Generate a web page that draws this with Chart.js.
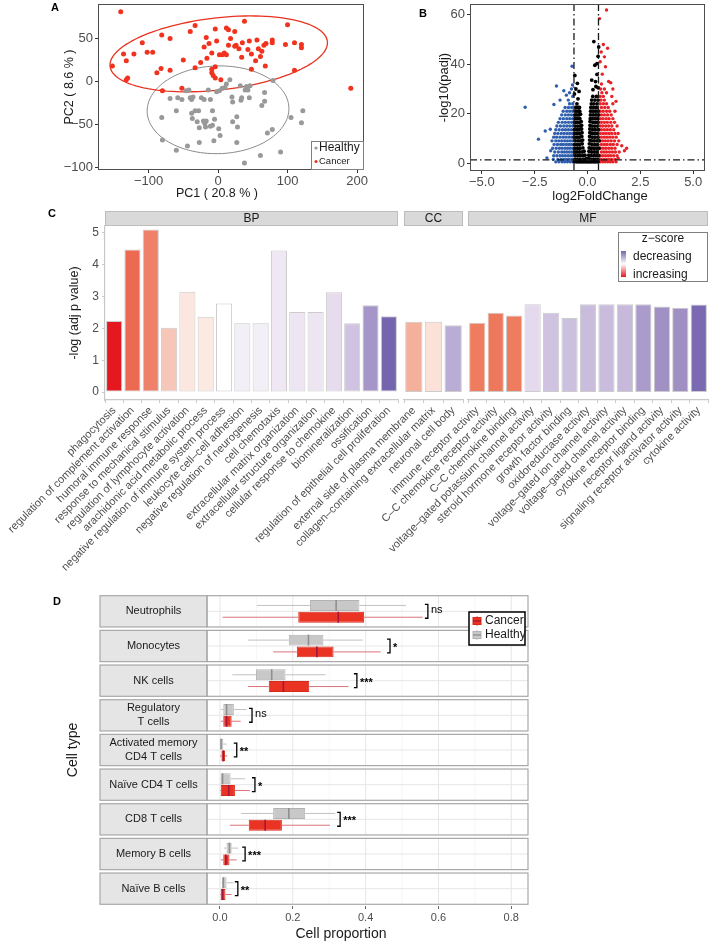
<!DOCTYPE html>
<html>
<head>
<meta charset="utf-8">
<script src="https://cdn.jsdelivr.net/npm/chart.js@4/dist/chart.umd.min.js"></script>
<style>
  body { margin: 0; background: #fff; width: 709px; height: 941px; position: relative; overflow: hidden;
         font-family: 'Liberation Sans', Arial, sans-serif; }
  canvas { position: absolute; }
  .tag { position: absolute; font-weight: bold; font-size: 11px; color: #000; transform: translate(-50%, -50%); }
  .xt { position: absolute; transform: translate(-50%, -50%); white-space: nowrap; color: #1a1a1a; }
</style>
</head>
<body>
<canvas id="pca" width="372" height="200" style="left:0;top:0"></canvas>
<canvas id="volcano" width="347" height="200" style="left:362px;top:0"></canvas>
<canvas id="goBP" width="400" height="400" style="left:0;top:205px"></canvas>
<canvas id="goCC" width="195" height="400" style="left:270px;top:205px"></canvas>
<canvas id="goMF" width="359" height="400" style="left:350px;top:205px"></canvas>
<canvas id="cells" width="709" height="356" style="left:0;top:585px"></canvas>

<div class="tag" style="left:55px;top:7px">A</div>
<div class="tag" style="left:423px;top:13px">B</div>
<div class="tag" style="left:52px;top:213px">C</div>
<div class="tag" style="left:57px;top:601px">D</div>
<div class="xt" style="left:217px;top:193px;font-size:12.5px">PC1 ( 20.8 % )</div>
<div class="xt" style="left:600px;top:195px;font-size:13px">log2FoldChange</div>
<div class="xt" style="left:341px;top:933px;font-size:14px">Cell proportion</div>

<script>
// ---------- data ----------
// A: PCA scores
const pcaHealthy = [[-81,-42],[-80,-68],[-69,-20],[-60,-34],[-60,-80],[-58,-19],[-52,-21],[-46,-11],[-42,-10],
  [-44,-75],[-40,-19],[-38,-21],[-36,-18],[-38,-37],[-37,-43],[-33,-34],[-30,-47],[-28,-34],[-27,-71],[-27,-54],
  [-24,-19],[-21,-46],[-19,-49],[-20,-21],[-18,-53],[-17,-46],[-14,-10],[-11,-21],[-11,-52],[-8,-34],[-8,-51],
  [-6,-69],[-5,-44],[-2,-12],[1,-55],[2,-11],[3,-63],[6,-8],[10,-7],[12,-3],[17,2],[20,-18],[21,-24],[21,-47],
  [27,-41],[27,-71],[28,-53],[33,-22],[32,-5],[34,-19],[38,-95],[39,-10],[43,-10],[41,-6],[45,-19],[46,-5],
  [61,-86],[63,-28],[67,-23],[67,-13],[71,-60],[78,-56],[79,1],[90,-82],[105,-42],[120,-48],[122,-34]];
const pcaCancer = [[-140,81],[-152,18],[-136,32],[-132,24],[-121,32],[-130,4],[-132,2],[-109,45],[-102,34],
  [-94,34],[-88,10],[-82,15],[-81,54],[-80,-11],[-69,13],[-69,50],[-50,25],[-52,-8],[-40,58],[-33,65],[-33,16],
  [-25,22],[-20,40],[-17,51],[-16,27],[-13,44],[-9,33],[-4,61],[-4,17],[-4,4],[-2,47],[2,31],[4,2],[-9,10],
  [-9,14],[-7,7],[6,31],[9,33],[12,31],[12,62],[15,60],[15,42],[18,50],[24,58],[24,41],[26,42],[30,38],[34,28],
  [35,45],[38,70],[43,37],[45,47],[48,32],[48,14],[54,24],[56,48],[58,38],[61,29],[63,35],[68,18],[66,42],
  [69,44],[78,48],[78,45],[97,43],[100,66],[110,45],[110,13],[120,43],[120,39],[191,-8]];
const ellipseHealthyCenter = [0, -33], ellipseHealthyRadii = [102, 51], ellipseHealthyAngle = 1;
const ellipseCancerCenter = [1, 32], ellipseCancerRadii = [157, 42], ellipseCancerAngle = 5.1;
const pcaXTicks = [-100, 0, 100, 200];
const pcaYTicks = [-100, -50, 0, 50];

// B: volcano (log2FoldChange, -log10(padj))
const volcanoNS = [[-0.62,0.5],[-0.5,0.5],[-0.4,0.5],[-0.3,0.5],[-0.2,0.5],[-0.1,0.5],[0,0.5],[0.1,0.5],[0.2,0.5],[0.3,0.5],[0.4,0.5],[0.5,0.5],
  [-0.6,1.5],[-0.48,1.5],[-0.35,1.5],[-0.22,1.5],[-0.12,1.5],[-0.05,1.8],[0.05,1.8],[0.15,1.5],[0.27,1.5],[0.38,1.5],[0.5,1.5],
  [-0.58,3],[-0.45,3],[-0.33,3],[-0.2,3],[-0.12,3.2],[0.06,3.2],[0.17,3],[0.3,3],[0.42,3],[0.53,3],
  [-0.61,4.5],[-0.5,4.5],[-0.38,4.5],[-0.25,4.5],[-0.16,4.8],[0.07,4.8],[0.2,4.5],[0.33,4.5],[0.45,4.5],
  [-0.6,6],[-0.47,6],[-0.35,6],[-0.22,6.2],[0.08,6.2],[0.18,6],[0.3,6],[0.43,6],[0.54,6],
  [-0.62,7.5],[-0.5,7.5],[-0.38,7.5],[-0.25,7.8],[0.09,7.8],[0.22,7.5],[0.35,7.5],[0.48,7.5],
  [-0.58,9],[-0.45,9],[-0.33,9],[-0.23,9.3],[0.1,9.3],[0.2,9],[0.32,9],[0.45,9],[0.55,9],
  [-0.62,10.5],[-0.5,10.5],[-0.38,10.5],[-0.27,10.8],[0.1,10.8],[0.23,10.5],[0.36,10.5],[0.5,10.5],
  [-0.6,12],[-0.48,12],[-0.36,12],[-0.26,12.3],[0.11,12.3],[0.2,12],[0.33,12],[0.46,12],
  [-0.62,13.5],[-0.5,13.5],[-0.4,13.5],[-0.28,13.8],[0.11,13.8],[0.24,13.5],[0.37,13.5],[0.52,13.5],
  [-0.58,15],[-0.46,15],[-0.35,15],[-0.28,15.3],[0.12,15.3],[0.22,15],[0.34,15],[0.47,15],
  [-0.6,16.5],[-0.5,16.5],[-0.38,16.5],[-0.3,16.8],[0.12,16.8],[0.25,16.5],[0.38,16.5],[0.5,16.5],
  [-0.58,18],[-0.47,18],[-0.36,18],[0.13,18],[0.24,18],[0.36,18],[0.48,18],
  [-0.6,19.5],[-0.5,19.5],[-0.4,19.5],[-0.33,19.8],[0.14,19.5],[0.27,19.5],[0.4,19.5],[0.52,19.5],
  [-0.56,21],[-0.45,21],[-0.37,21],[0.15,21],[0.26,21],[0.38,21],[0.5,21],
  [-0.55,22.5],[-0.45,22.5],[-0.38,22.5],[0.16,22.5],[0.28,22.5],[0.42,22.5],
  [-0.5,24],[0.18,24],[0.3,24],[0.45,24],[0.2,25.5],[0.35,25.5],[0.5,25.5],[0.25,27],[0.42,27],
  [-0.62,28],[-0.55,30],[-0.48,32.3],[-0.6,35.5],[-0.4,29],[-0.45,26],[0.3,49.2],[0.35,39.6],[0.45,40.3],
  [0.5,43.2],[0.45,35.9],[0.38,33],[0.2,33.6],[0.26,29.7],[0.5,30.5],[0.53,47],[0.4,31]];
const volcanoDown = [[-0.7,0.5],[-0.82,0.5],[-0.95,0.5],[-1.08,0.5],[-1.2,0.5],[-1.35,0.5],[-1.5,0.5],
  [-0.75,1.5],[-0.88,1.5],[-1.0,1.5],[-1.12,1.5],[-1.25,1.5],[-1.4,1.5],[-1.62,1.5],[-1.92,2.1],
  [-0.7,3],[-0.8,3],[-0.92,3],[-1.05,3],[-1.18,3],[-1.3,3],[-1.45,3],[-1.6,3],
  [-0.74,4.5],[-0.86,4.5],[-0.98,4.5],[-1.1,4.5],[-1.22,4.5],[-1.38,4.5],[-1.55,4.5],[-1.74,5],
  [-0.7,6],[-0.82,6],[-0.94,6],[-1.06,6],[-1.2,6],[-1.33,6],[-1.48,6],[-1.65,6],
  [-0.76,7.5],[-0.88,7.5],[-1.0,7.5],[-1.14,7.5],[-1.27,7.5],[-1.42,7.5],[-1.58,7.5],
  [-0.7,9],[-0.82,9],[-0.95,9],[-1.08,9],[-1.22,9],[-1.36,9],[-1.5,9],[-1.68,9],
  [-0.75,10.5],[-0.88,10.5],[-1.02,10.5],[-1.15,10.5],[-1.3,10.5],[-1.46,10.5],[-1.6,10.5],
  [-0.7,12],[-0.83,12],[-0.96,12],[-1.1,12],[-1.24,12],[-1.4,12],[-1.55,12],
  [-0.76,13.5],[-0.9,13.5],[-1.04,13.5],[-1.18,13.5],[-1.34,13.5],[-1.5,13.5],[-1.76,13.7],[-2.0,13],
  [-0.7,15],[-0.84,15],[-0.98,15],[-1.12,15],[-1.28,15],[-1.45,15],
  [-0.75,16.5],[-0.9,16.5],[-1.05,16.5],[-1.2,16.5],[-1.38,16.5],
  [-0.7,18],[-0.84,18],[-0.98,18],[-1.14,18],[-1.3,18],
  [-0.76,19.5],[-0.9,19.5],[-1.05,19.5],[-1.22,19.5],
  [-0.7,21],[-0.84,21],[-0.98,21],[-1.15,21],
  [-0.75,22.5],[-0.9,22.5],[-1.06,22.5],[-1.59,23.7],[-0.7,24],[-0.85,24],
  [-2.95,22.6],[-2.32,9.7],[-1.47,31.2],[-1.12,29.3],[-0.76,30],[-0.73,39.2],[-0.71,31.6],[-0.91,25.5],
  [-1.3,25.5],[-1.0,27.5],[-0.85,28.5],[-0.7,27]];
const volcanoUp = [[0.6,0.5],[0.72,0.5],[0.84,0.5],[0.96,0.5],[1.08,0.5],[1.2,0.5],[1.35,0.5],
  [0.65,1.5],[0.78,1.5],[0.9,1.5],[1.02,1.5],[1.15,1.5],[1.3,1.5],[1.45,2],
  [0.6,3],[0.72,3],[0.85,3],[0.98,3],[1.1,3],[1.24,3],[1.4,3],
  [0.66,4.5],[0.78,4.5],[0.9,4.5],[1.04,4.5],[1.18,4.5],[1.32,4.5],[1.5,4.5],[1.75,5],
  [0.6,6],[0.73,6],[0.86,6],[1.0,6],[1.14,6],[1.3,6],[1.62,7],[1.85,6],
  [0.66,7.5],[0.8,7.5],[0.93,7.5],[1.08,7.5],[1.22,7.5],[1.4,7.5],
  [0.6,9],[0.72,9],[0.85,9],[0.98,9],[1.12,9],[1.28,9],[1.48,9],
  [0.66,10.5],[0.8,10.5],[0.93,10.5],[1.06,10.5],[1.2,10.5],[1.36,10.5],
  [0.6,12],[0.73,12],[0.86,12],[1.0,12],[1.14,12],[1.3,12],[1.45,12],
  [0.66,13.5],[0.8,13.5],[0.94,13.5],[1.08,13.5],[1.24,13.5],
  [0.6,15],[0.72,15],[0.86,15],[1.0,15],[1.15,15],[1.4,15],
  [0.66,16.5],[0.8,16.5],[0.94,16.5],[1.1,16.5],[1.28,16.5],
  [0.6,18],[0.73,18],[0.88,18],[1.02,18],[1.2,18],
  [0.66,19.5],[0.8,19.5],[0.95,19.5],[1.12,19.5],
  [0.6,21],[0.74,21],[0.9,21],[1.05,21],[1.3,21],
  [0.66,22.5],[0.82,22.5],[0.98,22.5],[0.6,24],[0.75,24],[0.9,24],[1.2,24],
  [0.64,25.5],[0.8,25.5],[1.35,25],[0.6,27],[0.75,27],[1.15,27],[0.68,28.5],[0.9,28.5],
  [0.62,30],[0.8,30],[1.2,30],[0.66,32],[1.0,33],[1.1,32.5],
  [0.9,62],[0.57,58.5],[0.75,48],[0.95,46.5],[0.8,43],[0.85,39],[0.7,36],[0.6,41],[0.65,45]];
const fcThresholds = [-0.64, 0.52];
const padjThreshold = 1.3;
const volcanoXTicks = [-5, -2.5, 0, 2.5, 5];
const volcanoYTicks = [0, 20, 40, 60];

// C: GO enrichment
const bpTerms = ['phagocytosis','regulation of complement activation','humoral immune response',
  'response to mechanical stimulus','regulation of lymphocyte activation','arachidonic acid metabolic process',
  'negative regulation of immune system process','leukocyte cell\u2013cell adhesion','negative regulation of neurogenesis',
  'cell chemotaxis','extracellular matrix organization','extracellular structure organization',
  'cellular response to chemokine','biomineralization','ossification','regulation of epithelial cell proliferation'];
const bpValues = [2.23, 4.48, 5.11, 2.02, 3.15, 2.37, 2.78, 2.16, 2.16, 4.45, 2.52, 2.52, 3.14, 2.16, 2.73, 2.38];
const bpColors = ['#e5171f','#ec6a51','#ef8069','#f6c7b9','#fbe7df','#fbe9e2','#ffffff','#f3eff6','#f3eff6',
  '#efe7f3','#ede6f2','#ede6f2','#e6dcee','#cfc3e1','#a595c8','#7565ae'];
const ccTerms = ['external side of plasma membrane','collagen\u2013containing extracellular matrix','neuronal cell body'];
const ccValues = [2.21, 2.21, 2.1];
const ccColors = ['#f5b09c','#fbe1d8','#b9acd5'];
const mfTerms = ['immune receptor activity','C\u2013C chemokine receptor activity','C\u2013C chemokine binding',
  'voltage\u2013gated potassium channel activity','steroid hormone receptor activity','growth factor binding',
  'oxidoreductase activity','voltage\u2013gated ion channel activity','voltage\u2013gated channel activity',
  'cytokine receptor binding','receptor ligand activity','signaling receptor activator activity','cytokine activity'];
const mfValues = [2.18, 2.49, 2.41, 2.76, 2.49, 2.33, 2.76, 2.76, 2.76, 2.76, 2.69, 2.65, 2.75];
const mfColors = ['#ef7c5e','#ee785b','#ef7c5e','#e4d9ed','#cfc3e1','#ccc0df','#c9bcdd','#c9bcdd','#c6b9db',
  '#ab9bcb','#a190c4','#a08fc3','#7b6ab2'];
const goYTicks = [0, 1, 2, 3, 4, 5];

// D: immune cell proportions, [min, q1, median, q3, max]
const cellTypes = ['Neutrophils','Monocytes','NK cells','Regulatory\nT cells','Activated memory\nCD4 T cells',
  'Na\u00efve CD4 T cells','CD8 T cells','Memory B cells','Na\u00efve B cells'];
const healthyStats = [[0.101,0.247,0.319,0.383,0.511],[0.077,0.189,0.243,0.284,0.392],[0.034,0.099,0.142,0.180,0.290],
  [0.002,0.009,0.018,0.038,0.073],[0.0,0.001,0.003,0.009,0.018],[0.0,0.002,0.007,0.029,0.069],
  [0.058,0.146,0.189,0.234,0.316],[0.011,0.018,0.026,0.032,0.050],[0.004,0.006,0.009,0.018,0.037]];
const cancerStats = [[0.007,0.215,0.325,0.396,0.557],[0.146,0.211,0.266,0.312,0.441],[0.077,0.134,0.174,0.245,0.353],
  [0.002,0.009,0.018,0.032,0.057],[0.0,0.004,0.009,0.014,0.020],[0.0,0.002,0.024,0.041,0.082],
  [0.027,0.079,0.124,0.170,0.302],[0.002,0.009,0.016,0.026,0.046],[0.0,0.002,0.007,0.015,0.032]];
const sigLabels = ['ns','*','***','ns','**','*','***','***','**'];
const sigAt = [0.571, 0.467, 0.376, 0.088, 0.046, 0.096, 0.33, 0.069, 0.049];
const propTicks = [0, 0.2, 0.4, 0.6, 0.8];
const propMinor = [0.1, 0.3, 0.5, 0.7];

// ---------- helpers ----------
Chart.defaults.font.family = "'Liberation Sans', Arial, sans-serif";
Chart.defaults.color = '#4d4d4d';
Chart.defaults.animation = false;
Chart.defaults.responsive = false;
Chart.defaults.devicePixelRatio = 1;
Chart.defaults.plugins.legend.display = false;
Chart.defaults.plugins.tooltip.enabled = false;

const FONT = "'Liberation Sans', Arial, sans-serif";
function fixed(prop, v) {
  return s => { s[prop] = v; s.paddingTop = s.paddingBottom = s.paddingLeft = s.paddingRight = 0; };
}
function useTicks(list) { return s => { s.ticks = list.map(v => ({value: v})); }; }
const minus = v => (v < 0 ? '\u2212' + Math.abs(v) : String(v));
const pts = list => list.map(p => ({x: p[0], y: p[1]}));

function frame(color) {
  return {
    id: 'frame',
    afterDraw(chart) {
      const a = chart.chartArea, c = chart.ctx;
      c.save();
      c.strokeStyle = color; c.lineWidth = 1;
      c.strokeRect(Math.round(a.left) + 0.5, Math.round(a.top) + 0.5,
        Math.round(a.right - a.left) - 1, Math.round(a.bottom - a.top) - 1);
      c.restore();
    }
  };
}

// ---------- A ----------
const ellipsePlugin = {
  id: 'ellipses',
  beforeDatasetsDraw(chart) {
    const {x, y} = chart.scales, c = chart.ctx;
    const list = [
      [ellipseHealthyCenter, ellipseHealthyRadii, ellipseHealthyAngle, '#8a8a8a', 1],
      [ellipseCancerCenter, ellipseCancerRadii, ellipseCancerAngle, '#e8321f', 1.3]
    ];
    c.save();
    list.forEach(([cen, r, ang, col, w]) => {
      const th = ang * Math.PI / 180;
      c.beginPath();
      for (let k = 0; k <= 120; k++) {
        const t = k / 120 * 2 * Math.PI;
        const dx = r[0] * Math.cos(t), dy = r[1] * Math.sin(t);
        const px = x.getPixelForValue(cen[0] + dx * Math.cos(th) - dy * Math.sin(th));
        const py = y.getPixelForValue(cen[1] + dx * Math.sin(th) + dy * Math.cos(th));
        if (k === 0) c.moveTo(px, py); else c.lineTo(px, py);
      }
      c.strokeStyle = col; c.lineWidth = w; c.stroke();
    });
    c.restore();
  }
};
const pcaLegend = {
  id: 'pcaLegend',
  afterDraw(chart) {
    const a = chart.chartArea, c = chart.ctx;
    const l = a.right - 53, t = a.bottom - 29;
    c.save();
    c.fillStyle = '#fff'; c.fillRect(l, t, 53, 29);
    c.strokeStyle = '#808080'; c.lineWidth = 1; c.strokeRect(l + 0.5, t + 0.5, 52, 28);
    c.fillStyle = '#999999'; c.beginPath(); c.arc(l + 5, t + 7, 1.6, 0, 2 * Math.PI); c.fill();
    c.fillStyle = '#f0321e'; c.beginPath(); c.arc(l + 5, t + 20.5, 1.6, 0, 2 * Math.PI); c.fill();
    c.fillStyle = '#1a1a1a'; c.textBaseline = 'middle'; c.textAlign = 'left';
    c.font = '12px ' + FONT; c.fillText('Healthy', l + 8, t + 7);
    c.font = '9.5px ' + FONT; c.fillText('Cancer', l + 8, t + 20.5);
    c.restore();
  }
};

new Chart(document.getElementById('pca'), {
  type: 'scatter',
  data: {datasets: [
    {data: pts(pcaHealthy), backgroundColor: '#999999', borderWidth: 0, pointRadius: 2.5},
    {data: pts(pcaCancer), backgroundColor: '#f0321e', borderWidth: 0, pointRadius: 2.5}
  ]},
  options: {
    layout: {padding: {left: 0, right: 8, top: 2, bottom: 0}},
    scales: {
      x: {min: -172.7, max: 210, afterBuildTicks: useTicks(pcaXTicks), afterFit: fixed('height', 30),
          ticks: {font: {size: 13}, color: '#4d4d4d', padding: 1, callback: minus},
          grid: {drawOnChartArea: false, tickLength: 3, color: '#333'}, border: {display: false}},
      y: {min: -103, max: 90, afterBuildTicks: useTicks(pcaYTicks), afterFit: fixed('width', 98),
          ticks: {font: {size: 13}, color: '#4d4d4d', padding: 2, callback: minus},
          grid: {drawOnChartArea: false, tickLength: 3, color: '#333'}, border: {display: false},
          title: {display: true, text: 'PC2 ( 8.6 % )', color: '#1a1a1a', font: {size: 12.5}, padding: {top: 62, bottom: 0}}}
    }
  },
  plugins: [ellipsePlugin, frame('#4d4d4d'), pcaLegend]
});

// ---------- B ----------
const thresholdPlugin = {
  id: 'thresholds',
  afterDatasetsDraw(chart) {
    const {x, y} = chart.scales, a = chart.chartArea, c = chart.ctx;
    c.save();
    c.strokeStyle = '#1a1a1a'; c.lineWidth = 1.3; c.setLineDash([7, 3, 1.5, 3]);
    fcThresholds.forEach(v => {
      const px = x.getPixelForValue(v);
      c.beginPath(); c.moveTo(px, a.top); c.lineTo(px, a.bottom); c.stroke();
    });
    const py = y.getPixelForValue(padjThreshold);
    c.beginPath(); c.moveTo(a.left, py); c.lineTo(a.right, py); c.stroke();
    c.restore();
  }
};

new Chart(document.getElementById('volcano'), {
  type: 'scatter',
  data: {datasets: [
    {data: pts(volcanoNS), backgroundColor: '#000', borderWidth: 0, pointRadius: 1.9},
    {data: pts(volcanoDown), backgroundColor: '#2f5fae', borderWidth: 0, pointRadius: 1.7},
    {data: pts(volcanoUp), backgroundColor: '#ea2027', borderWidth: 0, pointRadius: 1.7}
  ]},
  options: {
    layout: {padding: {left: 0, right: 2, top: 1, bottom: 0}},
    scales: {
      x: {min: -5.56, max: 5.56, afterBuildTicks: useTicks(volcanoXTicks), afterFit: fixed('height', 29),
          ticks: {font: {size: 13}, color: '#4d4d4d', padding: 1,
                  callback: v => (v < 0 ? '\u2212' + Math.abs(v).toFixed(1) : v.toFixed(1))},
          grid: {drawOnChartArea: false, tickLength: 3, color: '#333'}, border: {display: false}},
      y: {min: -3.2, max: 64.4, afterBuildTicks: useTicks(volcanoYTicks), afterFit: fixed('width', 108),
          ticks: {font: {size: 13}, color: '#4d4d4d', padding: 2},
          grid: {drawOnChartArea: false, tickLength: 3, color: '#333'}, border: {display: false},
          title: {display: true, text: '-log10(padj)', color: '#1a1a1a', font: {size: 13}, padding: {top: 75, bottom: 0}}}
    }
  },
  plugins: [thresholdPlugin, frame('#4d4d4d')]
});

// ---------- C ----------
function strip(text) {
  return {
    id: 'strip',
    afterDraw(chart) {
      const a = chart.chartArea, c = chart.ctx;
      c.save();
      c.fillStyle = '#d9d9d9'; c.fillRect(a.left, a.top - 15, a.right - a.left, 15);
      c.strokeStyle = '#bdbdbd'; c.lineWidth = 1;
      c.strokeRect(a.left + 0.5, a.top - 14.5, a.right - a.left - 1, 14);
      c.fillStyle = '#1a1a1a'; c.font = '12px ' + FONT; c.textAlign = 'center'; c.textBaseline = 'middle';
      c.fillText(text, (a.left + a.right) / 2, a.top - 7);
      c.restore();
    }
  };
}
const zLegend = {
  id: 'zLegend',
  afterDraw(chart) {
    const a = chart.chartArea, c = chart.ctx;
    const l = a.right - 90, t = a.top + 6;
    c.save();
    c.fillStyle = '#fff'; c.fillRect(l, t, 90, 50);
    c.strokeStyle = '#7f7f7f'; c.lineWidth = 1; c.strokeRect(l + 0.5, t + 0.5, 89, 49);
    const g = c.createLinearGradient(0, t + 19, 0, t + 45);
    g.addColorStop(0, '#7565ae'); g.addColorStop(0.5, '#ffffff'); g.addColorStop(1, '#e5171f');
    c.fillStyle = g; c.fillRect(l + 3, t + 19, 5, 26);
    c.fillStyle = '#1a1a1a'; c.font = '12px ' + FONT; c.textBaseline = 'middle';
    c.textAlign = 'center'; c.fillText('z\u2212score', l + 45, t + 7);
    c.textAlign = 'left';
    c.fillText('decreasing', l + 15, t + 24.5);
    c.fillText('increasing', l + 15, t + 43);
    c.restore();
  }
};

function goChart(id, terms, values, colors, padLeft, padRight, showY, extra) {
  return new Chart(document.getElementById(id), {
    type: 'bar',
    data: {labels: terms, datasets: [{data: values, backgroundColor: colors, borderColor: '#cccccc',
           borderWidth: 1, borderSkipped: false, barPercentage: 0.88, categoryPercentage: 1}]},
    options: {
      layout: {padding: {left: padLeft, right: padRight, top: 21, bottom: 0}},
      scales: {
        x: {afterFit: fixed('height', 205),
            ticks: {font: {size: 11}, color: '#4d4d4d', minRotation: 45, maxRotation: 45, autoSkip: false, padding: 1},
            grid: {drawOnChartArea: false, tickLength: 3, color: '#c8c8c8'},
            border: {display: true, color: '#c8c8c8', width: 1.2}},
        y: showY ? {min: -0.25, max: 5.22, afterBuildTicks: useTicks(goYTicks), afterFit: fixed('width', 105),
            ticks: {font: {size: 12}, color: '#4d4d4d', padding: 3},
            grid: {drawOnChartArea: false, tickLength: 3, color: '#c8c8c8'},
            border: {display: true, color: '#c8c8c8', width: 1.2},
            title: {display: true, text: '-log (adj p value)', color: '#1a1a1a', font: {size: 12.5}, padding: {top: 67, bottom: 0}}}
          : {display: false, min: -0.25, max: 5.22}
      }
    },
    plugins: extra
  });
}
goChart('goBP', bpTerms, bpValues, bpColors, 0, 2, true, [strip('BP')]);
goChart('goCC', ccTerms, ccValues, ccColors, 134, 2, false, [strip('CC')]);
goChart('goMF', mfTerms, mfValues, mfColors, 118, 1, false, [strip('MF'), zLegend]);

// ---------- D ----------
const boxColors = {fill: ['#c8c8c8', '#ea3323'], edge: ['#b3b3b3', '#d62b1c'],
                   median: ['#8f8f8f', '#a3173a'], whisker: ['#c2c2c2', '#d9737c']};
const STRIP_W = 107;
function rowBounds(chart, i) {
  const y = chart.scales.y;
  const pitch = y.getPixelForValue(1) - y.getPixelForValue(0);
  const cy = y.getPixelForValue(i);
  return [cy - pitch / 2 + 1.7, cy + pitch / 2 - 1.7, cy];
}
const boxPlugin = {
  id: 'boxes',
  beforeDatasetsDraw(chart) {
    const x = chart.scales.x, a = chart.chartArea, c = chart.ctx;
    c.save();
    cellTypes.forEach((name, i) => {
      const [top, bot, cy] = rowBounds(chart, i);
      c.fillStyle = '#fff'; c.fillRect(a.left, top, a.right - a.left, bot - top);
      c.strokeStyle = '#f2f2f2'; c.lineWidth = 0.7;
      propMinor.forEach(v => { const px = x.getPixelForValue(v); c.beginPath(); c.moveTo(px, top); c.lineTo(px, bot); c.stroke(); });
      c.strokeStyle = '#e6e6e6'; c.lineWidth = 1;
      propTicks.forEach(v => { const px = x.getPixelForValue(v); c.beginPath(); c.moveTo(px, top); c.lineTo(px, bot); c.stroke(); });
      c.beginPath(); c.moveTo(a.left, cy); c.lineTo(a.right, cy); c.stroke();
    });
    [healthyStats, cancerStats].forEach((stats, d) => {
      const meta = chart.getDatasetMeta(d);
      c.strokeStyle = boxColors.whisker[d]; c.lineWidth = 1;
      stats.forEach((s, j) => {
        const yy = meta.data[j].y;
        c.beginPath();
        c.moveTo(x.getPixelForValue(s[0]), yy); c.lineTo(x.getPixelForValue(s[1]), yy);
        c.moveTo(x.getPixelForValue(s[3]), yy); c.lineTo(x.getPixelForValue(s[4]), yy);
        c.stroke();
      });
    });
    c.restore();
  },
  afterDatasetsDraw(chart) {
    const x = chart.scales.x, a = chart.chartArea, c = chart.ctx;
    c.save();
    [healthyStats, cancerStats].forEach((stats, d) => {
      const meta = chart.getDatasetMeta(d);
      c.strokeStyle = boxColors.median[d]; c.lineWidth = 1.6;
      stats.forEach((s, j) => {
        const bar = meta.data[j], px = x.getPixelForValue(s[2]);
        c.beginPath(); c.moveTo(px, bar.y - bar.height / 2); c.lineTo(px, bar.y + bar.height / 2); c.stroke();
      });
    });
    cellTypes.forEach((name, i) => {
      const [top, bot, cy] = rowBounds(chart, i);
      c.fillStyle = '#e5e5e5'; c.fillRect(a.left - STRIP_W, top, STRIP_W, bot - top);
      c.strokeStyle = '#a8a8a8'; c.lineWidth = 1.2;
      c.strokeRect(a.left - STRIP_W, top, STRIP_W, bot - top);
      c.strokeRect(a.left, top, a.right - a.left, bot - top);
      c.fillStyle = '#1a1a1a'; c.font = '11px ' + FONT; c.textAlign = 'center'; c.textBaseline = 'middle';
      const lines = name.split('\n');
      lines.forEach((ln, k) => c.fillText(ln, a.left - STRIP_W / 2, cy + (k - (lines.length - 1) / 2) * 14));
      // significance bracket
      const y0 = chart.getDatasetMeta(0).data[i].y, y1 = chart.getDatasetMeta(1).data[i].y;
      const bx = x.getPixelForValue(sigAt[i]);
      c.strokeStyle = '#000'; c.lineWidth = 1.3;
      c.beginPath(); c.moveTo(bx - 3, y0 - 1); c.lineTo(bx, y0 - 1); c.lineTo(bx, y1 + 1); c.lineTo(bx - 3, y1 + 1); c.stroke();
      c.fillStyle = '#000'; c.textAlign = 'left';
      const star = sigLabels[i] !== 'ns';
      c.font = (star ? 'bold 11px ' : '11px ') + FONT;
      c.fillText(sigLabels[i], bx + 3, (y0 + y1) / 2 + (star ? 2 : -1));
    });
    c.restore();
  },
  afterDraw(chart) {
    const a = chart.chartArea, c = chart.ctx;
    const l = a.right - 59, t = a.top + 18;
    c.save();
    c.fillStyle = '#fff'; c.fillRect(l, t, 56, 33);
    c.strokeStyle = '#000'; c.lineWidth = 1.5; c.strokeRect(l, t, 56, 33);
    [['Cancer', 1, 9], ['Healthy', 0, 23]].forEach(([txt, d, dy]) => {
      const gx = l + 8, gy = t + dy;
      c.strokeStyle = boxColors.whisker[d]; c.lineWidth = 1;
      c.beginPath(); c.moveTo(gx, gy - 5); c.lineTo(gx, gy + 5); c.stroke();
      c.fillStyle = boxColors.fill[d]; c.fillRect(gx - 4, gy - 3.5, 8, 7);
      c.strokeStyle = boxColors.edge[d]; c.strokeRect(gx - 4, gy - 3.5, 8, 7);
      c.strokeStyle = boxColors.median[d]; c.lineWidth = 1.3;
      c.beginPath(); c.moveTo(gx - 4, gy); c.lineTo(gx + 4, gy); c.stroke();
      c.fillStyle = '#1a1a1a'; c.font = '12px ' + FONT; c.textAlign = 'left'; c.textBaseline = 'middle';
      c.fillText(txt, gx + 8, gy);
    });
    c.restore();
  }
};

new Chart(document.getElementById('cells'), {
  type: 'bar',
  data: {
    labels: cellTypes,
    datasets: [
      {label: 'Healthy', data: healthyStats.map(s => [s[1], s[3]]), backgroundColor: boxColors.fill[0],
       borderColor: boxColors.edge[0], borderWidth: 1, borderSkipped: false},
      {label: 'Cancer', data: cancerStats.map(s => [s[1], s[3]]), backgroundColor: boxColors.fill[1],
       borderColor: boxColors.edge[1], borderWidth: 1, borderSkipped: false}
    ]
  },
  options: {
    indexAxis: 'y',
    datasets: {bar: {categoryPercentage: 0.68, barPercentage: 0.93}},
    layout: {padding: {left: 0, right: 181, top: 9, bottom: 0}},
    scales: {
      x: {min: -0.0357, max: 0.846, afterBuildTicks: useTicks(propTicks), afterFit: fixed('height', 35),
          ticks: {font: {size: 11}, color: '#4d4d4d', padding: 2, callback: v => v.toFixed(1)},
          grid: {drawOnChartArea: false, tickLength: 3, color: '#666'}, border: {display: false}},
      y: {afterFit: fixed('width', 207), ticks: {display: false}, grid: {display: false}, border: {display: false},
          title: {display: true, text: 'Cell type', color: '#1a1a1a', font: {size: 14}, padding: {top: 65, bottom: 0}}}
    }
  },
  plugins: [boxPlugin]
});
</script>
</body>
</html>
